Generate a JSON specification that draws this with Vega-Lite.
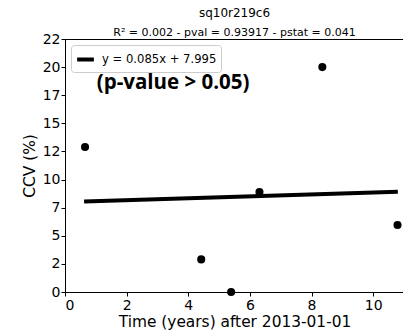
{
  "$schema": "https://vega.github.io/schema/vega-lite/v6.json",
  "width": 339,
  "height": 253,
  "autosize": "none",
  "padding": {"left": 65, "top": 39, "right": 0, "bottom": 42},
  "background": "white",
  "config": {
    "font": "DejaVu Sans",
    "view": {"stroke": "black", "strokeWidth": 1},
    "axis": {"grid": false, "domainColor": "black", "tickColor": "black", "labelColor": "black", "titleColor": "black", "labelFontSize": 14, "titleFontSize": 15.4, "titleFontWeight": "normal", "labelFont": "DejaVu Sans", "titleFont": "DejaVu Sans", "tickSize": 4, "labelOverlap": false}
  },
  "title": {
    "text": "sq10r219c6",
    "subtitle": "R² = 0.002 - pval = 0.93917 - pstat = 0.041",
    "font": "DejaVu Sans",
    "subtitleFont": "DejaVu Sans",
    "fontSize": 12,
    "subtitleFontSize": 11,
    "fontWeight": "normal",
    "color": "black",
    "subtitleColor": "black",
    "anchor": "middle",
    "offset": -7,
    "subtitlePadding": 7
  },
  "datasets": {
    "pts": [
      {"t": 0.65, "ccv": 12.9},
      {"t": 4.42, "ccv": 2.9},
      {"t": 5.39, "ccv": 0.0},
      {"t": 6.31, "ccv": 8.9},
      {"t": 8.35, "ccv": 20.0},
      {"t": 10.79, "ccv": 5.96}
    ],
    "fit": [
      {"t": 0.62, "ccv": 8.048, "label": "y = 0.085x + 7.995"},
      {"t": 10.8, "ccv": 8.913, "label": "y = 0.085x + 7.995"}
    ],
    "note": [
      {"t": 1.03, "ccv": 18.6, "txt": "(p-value > 0.05)"}
    ]
  },
  "encoding": {
    "x": {"field": "t", "type": "quantitative", "scale": {"domain": [0, 11], "nice": false}, "axis": {"title": "Time (years) after 2013-01-01", "values": [0, 2, 4, 6, 8, 10], "titlePadding": 2, "labelPadding": 2}},
    "y": {"field": "ccv", "type": "quantitative", "scale": {"domain": [0, 22.5], "nice": false}, "axis": {"title": "CCV (%)", "values": [0, 2.5, 5, 7.5, 10, 12.5, 15, 17.5, 20, 22.5], "labelExpr": "floor(datum.value)", "titlePadding": 5, "labelPadding": 1}}
  },
  "layer": [
    {
      "data": {"name": "fit"},
      "mark": {"type": "line", "strokeWidth": 4, "clip": true},
      "encoding": {
        "color": {"field": "label", "type": "nominal", "scale": {"range": ["black"]}, "legend": {"title": null, "orient": "top-left", "offset": 6, "symbolType": "stroke", "symbolStrokeWidth": 4, "symbolSize": 280, "symbolOffset": 0, "labelFontSize": 11.6, "labelOffset": 6, "labelFont": "DejaVu Sans", "labelColor": "black", "strokeColor": "#cccccc", "fillColor": "white", "padding": 4, "cornerRadius": 3}}
      }
    },
    {
      "data": {"name": "pts"},
      "mark": {"type": "circle", "size": 65, "color": "black", "opacity": 1, "clip": false}
    },
    {
      "data": {"name": "note"},
      "mark": {"type": "text", "align": "left", "baseline": "middle", "fontSize": 20.5, "fontWeight": "bold", "font": "Open Sans", "color": "black"},
      "encoding": {
        "text": {"field": "txt"}
      }
    }
  ]
}
